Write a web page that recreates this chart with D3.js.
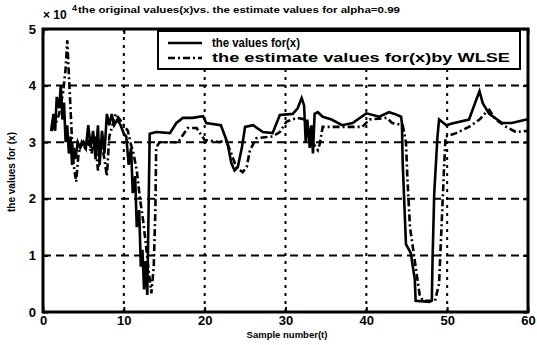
<!DOCTYPE html>
<html><head><meta charset="utf-8">
<script src="https://cdn.jsdelivr.net/npm/d3@7"></script>
<style>body{margin:0;background:#fff;}text{font-family:"Liberation Sans",Arial,sans-serif;}</style>
</head><body><svg id="c" width="537" height="345"></svg>
<script>
// Sample positions and values (in units of 10^4)
const actualX = [1.0,1.3,1.5,1.7,2.0,2.2,2.4,2.6,2.8,3.0,3.2,3.4,3.6,3.8,4.0,4.3,4.6,5.0,5.3,5.6,5.9,6.2,6.5,6.8,7.0,7.3,7.6,7.9,8.2,8.5,8.8,9.2,9.6,10.0,10.3,10.6,10.9,11.1,11.4,11.6,11.9,12.1,12.3,12.5,12.7,12.9,13.0,13.1,13.2,14.0,15.7,16.5,17.3,18.5,19.8,20.2,22.0,22.8,23.3,23.7,24.1,24.6,25.0,26.0,27.2,28.4,29.3,30.9,31.5,32.0,32.3,32.5,32.7,33.0,33.2,33.4,33.6,34.0,34.6,35.7,37.0,38.3,40.0,41.6,42.8,43.5,44.3,44.4,44.5,44.7,44.9,45.5,46.0,46.1,47.8,48.1,48.2,48.4,48.8,49.0,49.9,50.6,52.7,53.6,54.0,54.4,55.2,56.8,58.0,59.8,60.0];
const actualY = [3.2,3.5,3.2,3.8,3.6,4.0,3.4,3.7,3.0,3.3,2.8,3.1,2.6,2.9,2.7,3.0,2.9,3.0,2.9,3.3,2.9,3.2,2.7,3.3,2.6,3.2,2.8,3.5,3.3,3.5,3.3,3.4,3.3,3.15,3.1,2.6,2.9,2.1,2.4,1.5,1.8,0.8,1.1,0.4,0.9,0.3,1.2,2.2,3.15,3.18,3.16,3.34,3.43,3.43,3.46,3.34,3.3,3.0,2.63,2.5,2.56,2.9,3.27,3.3,3.18,3.16,3.48,3.5,3.6,3.78,3.65,3.0,3.4,2.9,3.3,2.8,3.5,3.53,3.45,3.4,3.3,3.34,3.51,3.45,3.53,3.5,3.45,3.34,2.63,1.92,1.2,1.04,0.57,0.2,0.18,0.2,0.97,2.1,3.1,3.4,3.3,3.33,3.4,3.75,3.9,3.69,3.5,3.34,3.34,3.4,3.4];
const estX = [1.0,1.5,2.0,2.5,2.8,3.0,3.2,3.4,3.6,3.8,4.1,4.4,4.8,5.2,5.6,6.0,6.4,6.8,7.2,7.6,7.9,8.2,8.6,9.0,9.5,10.0,10.5,10.8,11.2,11.6,12.0,12.4,12.8,13.1,13.4,13.7,13.9,14.0,14.4,16.7,17.9,19.0,20.0,21.9,22.6,23.3,23.9,24.7,25.2,25.6,26.4,28.4,29.3,30.1,31.4,32.5,33.3,34.0,34.2,34.6,36.3,39.5,40.4,42.5,43.2,44.5,44.9,45.1,45.4,45.8,46.2,46.6,47.0,48.5,49.0,49.3,49.6,49.8,51.1,52.7,54.0,54.8,55.2,56.0,57.3,58.5,60.0];
const estY = [3.2,3.3,3.5,3.9,4.3,4.8,4.2,3.6,3.0,2.6,2.3,2.8,3.0,2.9,3.0,2.8,3.1,2.5,3.0,2.7,2.4,3.1,3.3,3.5,3.4,3.3,3.2,3.0,2.8,2.5,2.0,1.6,1.1,0.7,0.33,0.8,1.8,2.9,3.0,3.0,3.25,3.25,3.04,3.0,3.05,2.8,2.56,2.47,2.56,2.86,3.07,3.1,3.18,3.36,3.43,3.4,3.0,2.86,2.95,3.27,3.27,3.27,3.4,3.43,3.34,3.3,3.0,2.3,1.5,1.1,0.7,0.3,0.2,0.2,0.5,1.5,2.5,3.1,3.16,3.27,3.4,3.53,3.57,3.4,3.27,3.18,3.2];
const xTicks = [0,10,20,30,40,50,60];
const yTicks = [0,1,2,3,4,5];
const seriesNames = ["the values for(x)","the estimate values for(x)by WLSE"];
const titleText = "the original values(x)vs. the estimate values for alpha=0.99";
const xLabel = "Sample number(t)";
const yLabel = "the values for (x)";

const svg = d3.select("#c");
const L=43,R=528,T=29,B=312;
const x = d3.scaleLinear().domain([0,60]).range([L,R]);
const y = d3.scaleLinear().domain([0,5]).range([B,T]);

// grid
const g = svg.append("g");
xTicks.slice(1,-1).forEach(t=>{
  g.append("line").attr("x1",x(t)).attr("x2",x(t)).attr("y1",T).attr("y2",B)
   .attr("stroke","#000").attr("stroke-width",2).attr("stroke-dasharray","3,5");
});
yTicks.slice(1,-1).forEach(t=>{
  g.append("line").attr("x1",L).attr("x2",R).attr("y1",y(t)).attr("y2",y(t))
   .attr("stroke","#000").attr("stroke-width",2).attr("stroke-dasharray","8,5");
});

// axes
const xa = svg.append("g").attr("transform",`translate(0,${B})`)
  .call(d3.axisBottom(x).tickValues(xTicks).tickSize(-5).tickPadding(4).tickFormat(d3.format("d")));
const xt = svg.append("g").attr("transform",`translate(0,${T})`)
  .call(d3.axisTop(x).tickValues(xTicks).tickSize(-5).tickFormat(""));
const ya = svg.append("g").attr("transform",`translate(${L},0)`)
  .call(d3.axisLeft(y).tickValues(yTicks).tickSize(-5).tickPadding(7).tickFormat(d3.format("d")));
const yr = svg.append("g").attr("transform",`translate(${R},0)`)
  .call(d3.axisRight(y).tickValues(yTicks).tickSize(-5).tickFormat(""));
[xa,xt,ya,yr].forEach(a=>{
  a.select(".domain").remove();
  a.selectAll("line").attr("stroke","#000").attr("stroke-width",2);
  a.selectAll("text").attr("font-size",13).attr("font-weight","bold").attr("fill","#000")
   .attr("font-family","Liberation Sans, Arial, sans-serif");
});

// lines
const line = d3.line().x(d=>x(d[0])).y(d=>y(d[1]));
svg.append("path").datum(actualX.map((v,i)=>[v,actualY[i]])).attr("d",line)
  .attr("fill","none").attr("stroke","#000").attr("stroke-width",2.6);
svg.append("path").datum(estX.map((v,i)=>[v,estY[i]])).attr("d",line)
  .attr("fill","none").attr("stroke","#000").attr("stroke-width",2.6)
  .attr("stroke-dasharray","7,3,2,3");

// frame
svg.append("rect").attr("x",L).attr("y",T).attr("width",R-L).attr("height",B-T)
  .attr("fill","none").attr("stroke","#000").attr("stroke-width",3);

// legend
const lg = svg.append("g");
lg.append("rect").attr("x",158).attr("y",31).attr("width",362).attr("height",38)
  .attr("fill","#fff").attr("stroke","#000").attr("stroke-width",2);
const legW = [88, 298];
[0,1].forEach(i=>{
  const yy = 43 + i*15;
  lg.append("line").attr("x1",168).attr("x2",202).attr("y1",yy).attr("y2",yy)
    .attr("stroke","#000").attr("stroke-width",2.6).attr("stroke-dasharray", i?"7,3,2,3":null);
  lg.append("text").attr("x",212).attr("y",yy+4).attr("font-size",12).attr("font-weight","bold")
    .attr("textLength",legW[i]).attr("lengthAdjust","spacingAndGlyphs")
    .text(seriesNames[i]);
});

// title & labels
svg.append("text").attr("x",43).attr("y",19).attr("font-size",12).attr("font-weight","bold").text("\u00d7 10");
svg.append("text").attr("x",72).attr("y",11).attr("font-size",9).attr("font-weight","bold").text("4");
svg.append("text").attr("x",78).attr("y",13).attr("font-size",9.5).attr("font-weight","bold")
  .attr("textLength",322).attr("lengthAdjust","spacingAndGlyphs").text(titleText);
svg.append("text").attr("x",287).attr("y",338).attr("text-anchor","middle").attr("font-size",9.5).attr("font-weight","bold").text(xLabel);
svg.append("text").attr("transform","translate(15,172) rotate(-90)").attr("text-anchor","middle")
  .attr("font-size",10).attr("font-weight","bold").text(yLabel);
</script></body></html>
